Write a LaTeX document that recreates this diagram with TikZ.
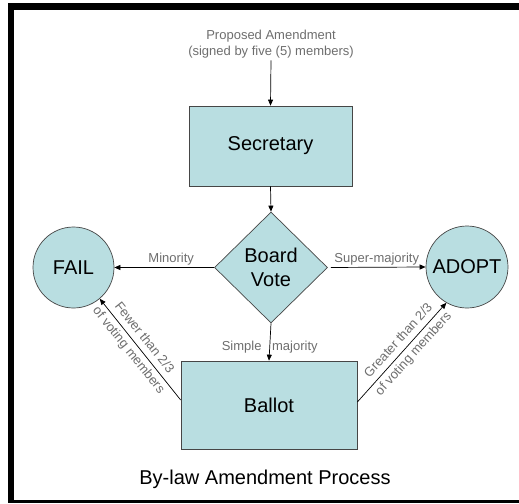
\documentclass[tikz,border=0pt]{standalone}
\usepackage{fontspec}
\setmainfont{Liberation Sans}
\usetikzlibrary{shapes.geometric, arrows.meta, positioning}
\definecolor{boxfill}{RGB}{185,222,225}
\definecolor{edgegray}{RGB}{70,70,70}
\definecolor{notegray}{RGB}{110,110,110}
\tikzset{
  box/.style={draw=edgegray, fill=boxfill, line width=0.7pt, inner sep=1pt,
    font=\fontsize{20}{24}\selectfont},
  note/.style={text=notegray, font=\fontsize{13}{16}\selectfont, inner sep=2pt},
  slopenote/.style={note, sloped, align=center, inner sep=0pt,
    font=\fontsize{13}{20}\selectfont},
  flow/.style={-{Triangle[length=6pt,width=5pt]}, line width=0.7pt}
}

\begin{document}
\begin{tikzpicture}[x=1pt,y=-1pt]
        \useasboundingbox (0,0) rectangle (519,503);
        \fill[white] (0,0) rectangle (519,503);
        % frame
        \fill[black] (8,3) rectangle (519,10);
        \fill[black] (8,3) rectangle (14,503);
        \fill[black] (8,500) rectangle (519,503);
        % nodes
        \node[note, align=center] (prop) at (271,44) {Proposed Amendment\\(signed by five (5) members)};
        \node[box, rectangle, minimum width=163pt, minimum height=80pt] (sec) at (270.5,146) {Secretary};
        \node[box, diamond, minimum width=113pt, minimum height=111pt, inner sep=0pt, align=center] (vote) at (271,267.5) {Board\\Vote};
        \node[box, circle, minimum size=81pt] (fail) at (73.5,267.5) {FAIL};
        \node[box, circle, minimum size=82pt, inner sep=0pt] (adopt) at (467,267) {ADOPT};
        \node[box, rectangle, minimum width=176pt, minimum height=88pt] (ballot) at (269,405) {Ballot};
        \node[font=\fontsize{20}{24}\selectfont] (title) at (265,479) {By-law Amendment Process};
        % connectors
        \draw[flow] (prop.south) -- (sec.north);
        \draw[flow] (sec.south) -- (vote.north);
        \draw[flow] (vote.west) -- node[note, above, pos=0.43]{Minority} (fail.east);
        \draw[flow, shorten <=3pt] (vote.east) -- node[note, above, pos=0.5]{Super-majority} (adopt.west);
        \draw[flow] (vote.south) -- node[note, pos=0.63]{Simple\hspace{7pt} majority} (ballot.north);
        \draw[flow] ([yshift=5pt]ballot.west) -- node[slopenote, pos=0.55]{Fewer than 2/3\\of voting members} (fail.-50);
        \draw[flow] ([yshift=3pt]ballot.east) -- node[slopenote, pos=0.55]{Greater than 2/3\\of voting members} (adopt.240);
    \end{tikzpicture}
\end{document}
